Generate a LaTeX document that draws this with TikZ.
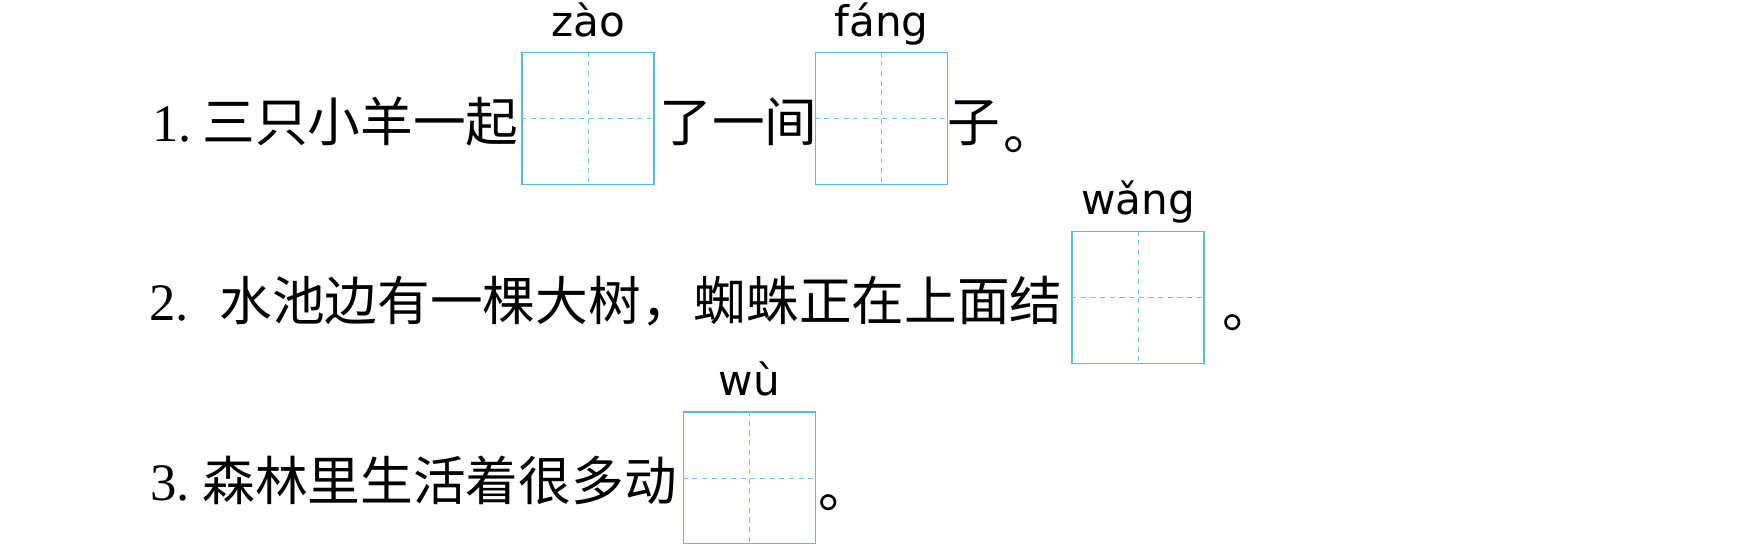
\documentclass[tikz,border=0pt]{standalone}
\usepackage{fontspec}
\newfontfamily\cjk{Noto Sans CJK SC}
\newfontfamily\pyfont{DejaVu Sans}
\newfontfamily\numfont{Liberation Serif}
\usetikzlibrary{positioning}
\definecolor{gecyan}{RGB}{85,188,232}
\tikzset{
  gebox/.style={draw=gecyan, line width=1.1pt, minimum size=2.64cm, inner sep=0pt},
  guide/.style={draw=gecyan!85, line width=0.5pt, dash pattern=on 3pt off 2.5pt},
  hanzi/.style={font=\cjk\fontsize{30}{36}\selectfont, inner sep=0pt, anchor=base west},
  numlabel/.style={font=\numfont\fontsize{30}{36}\selectfont, inner sep=0pt, anchor=base west},
  stop/.style={hanzi, yshift=-4pt, xshift=2pt},
  pinyin/.style={font=\pyfont\fontsize{24}{28}\selectfont, inner sep=0pt},
}
\begin{document}
\begin{tikzpicture}[x=0.02cm, y=-0.02cm]
  \useasboundingbox (0,0) rectangle (1749,544);

  \node[numlabel] (num1) at (152,142) {1.};
  \node[hanzi] (t1a) at (202,142) {三只小羊一起};
  \node[gebox] (zao) at (588,118.5) {};
  \node[hanzi] (t1b) at (659,142) {了一间};
  \node[gebox] (fang) at (881.5,118.5) {};
  \node[hanzi] (t1c) at (947,142) {子};
  \node[stop] (p1) at (1000,142) {。};

  \node[numlabel] (num2) at (149,320) {2.};
  \node[hanzi] (t2a) at (219,320) {水池边有一棵大树，蜘蛛正在上面结};
  \node[gebox] (wang) at (1138,297.5) {};
  \node[stop] (p2) at (1219,320) {。};

  \node[numlabel] (num3) at (150,500) {3.};
  \node[hanzi] (t3a) at (202,500) {森林里生活着很多动};
  \node[gebox] (wu) at (749.5,478) {};
  \node[stop] (p3) at (815,500) {。};

  \foreach \b in {zao,fang,wang,wu} {
    \draw[guide] (\b.north) -- (\b.south);
    \draw[guide] (\b.west) -- (\b.east);
  }

  \node[pinyin, above=0.3cm of zao, anchor=base] (py1) {zào};
  \node[pinyin, above=0.3cm of fang, anchor=base] (py2) {fáng};
  \node[pinyin, above=0.33cm of wang, anchor=base] (py3) {wǎng};
  \node[pinyin, above=0.32cm of wu, anchor=base] (py4) {wù};
\end{tikzpicture}
\end{document}
